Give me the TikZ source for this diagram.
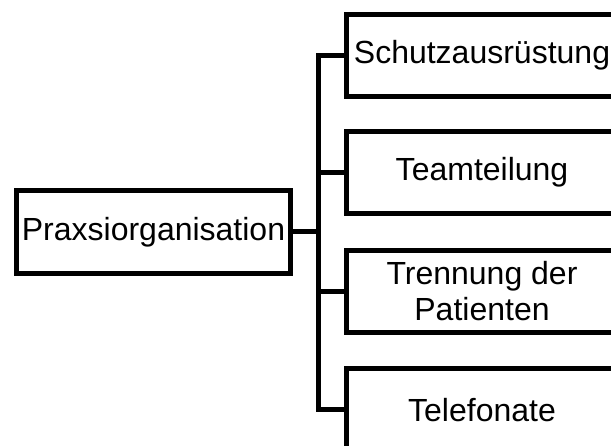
\documentclass[tikz,border=0pt]{standalone}
\usepackage{fontspec}
\setmainfont{Liberation Sans}
\begin{document}
\begin{tikzpicture}[x=1pt,y=1pt,
  box/.style={draw=black, line width=5pt, outer sep=0pt, inner sep=0pt,
    align=center, font=\fontsize{32}{36}\selectfont, line join=miter},
  leaf/.style={box, minimum width=272pt, minimum height=82pt},
  conn/.style={draw=black, line width=5pt, line join=miter}]
  \useasboundingbox (0,0) rectangle (611,446);
  % root node on the left
  \node[box, minimum width=274pt, minimum height=83pt] (root) at (153.5,214) {Praxsiorganisation};
  % branch nodes on the right
  \node[leaf] (b1) at (482,390.5) {Schutzausrüstung};
  \node[leaf] (b2) at (482,273.5) {Teamteilung};
  \node[leaf] (b3) at (482,154.5) {Trennung der\\Patienten};
  \node[leaf] (b4) at (482,36) {Telefonate};
  % vertical trunk of the bracket
  \coordinate (tr) at (318.5,0);
  \draw[conn] (root.east) -- (root.east -| tr);
  \draw[conn] (b1.west) -- (b1.west -| tr) -- (b4.west -| tr) -- (b4.west);
  \draw[conn] (b2.west) -- (b2.west -| tr);
  \draw[conn] (b3.west) -- (b3.west -| tr);
\end{tikzpicture}
\end{document}
